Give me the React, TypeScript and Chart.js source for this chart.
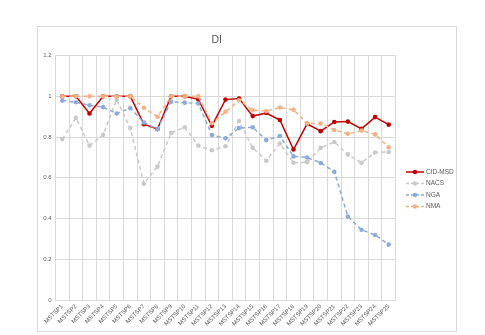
import React, { useEffect, useRef } from "react";
import { Chart, registerables } from "chart.js";

Chart.register(...registerables);

const categories = Array.from({ length: 25 }, (_, i) => `MSTSP${i + 1}`);

const cidMsd = [1.0, 1.0, 0.916, 1.0, 1.0, 1.0, 0.863, 0.839, 1.0, 1.0, 0.985, 0.855, 0.984, 0.989, 0.903, 0.918, 0.884, 0.739, 0.865, 0.829, 0.874, 0.876, 0.84, 0.898, 0.861];
const nacs = [0.79, 0.894, 0.758, 0.811, 0.984, 0.844, 0.571, 0.655, 0.821, 0.848, 0.758, 0.735, 0.755, 0.879, 0.747, 0.684, 0.768, 0.674, 0.677, 0.747, 0.776, 0.715, 0.674, 0.724, 0.727];
const nga = [0.979, 0.971, 0.956, 0.947, 0.916, 0.942, 0.871, 0.839, 0.974, 0.969, 0.965, 0.81, 0.794, 0.844, 0.848, 0.785, 0.805, 0.705, 0.7, 0.673, 0.63, 0.41, 0.345, 0.319, 0.272];
const nma = [1.0, 1.0, 1.0, 1.0, 1.0, 1.0, 0.944, 0.9, 1.0, 1.0, 1.0, 0.868, 0.924, 0.981, 0.932, 0.927, 0.945, 0.934, 0.866, 0.866, 0.835, 0.816, 0.832, 0.813, 0.75];

const seriesNames = ["CID-MSD", "NACS", "NGA", "NMA"];
const seriesColors = ["#c00000", "#c9c9c9", "#8eaadb", "#f4b183"];
const seriesDashed = [false, true, true, true];
const yTicks = [0, 0.2, 0.4, 0.6, 0.8, 1, 1.2];

const FONT = "'Liberation Sans', Arial, sans-serif";

const legendPlugin = {
  id: "customLegend",
  afterDraw(chart: any) {
    const ctx = chart.ctx;
    const x0 = 368;
    const ys = [145, 156.5, 168, 179.5];
    ctx.save();
    seriesNames.forEach((name, i) => {
      const y = ys[i];
      ctx.strokeStyle = seriesColors[i];
      ctx.lineWidth = 1.5;
      ctx.setLineDash(seriesDashed[i] ? [3, 2] : []);
      ctx.beginPath();
      ctx.moveTo(x0, y);
      ctx.lineTo(x0 + 18, y);
      ctx.stroke();
      ctx.setLineDash([]);
      ctx.fillStyle = seriesColors[i];
      ctx.beginPath();
      ctx.arc(x0 + 9, y, 2.2, 0, Math.PI * 2);
      ctx.fill();
      ctx.fillStyle = "#595959";
      ctx.font = `6.5px ${FONT}`;
      ctx.textBaseline = "middle";
      ctx.textAlign = "left";
      ctx.fillText(name, x0 + 20, y);
    });
    ctx.restore();
  },
};

export default function App() {
  const ref = useRef<HTMLCanvasElement | null>(null);
  useEffect(() => {
    if (!ref.current) return;
    const data = [cidMsd, nacs, nga, nma];
    const chart = new Chart(ref.current, {
      type: "line",
      data: {
        labels: categories,
        datasets: seriesNames.map((name, i) => ({
          label: name,
          data: data[i],
          borderColor: seriesColors[i],
          backgroundColor: seriesColors[i],
          borderWidth: 1.5,
          borderDash: seriesDashed[i] ? [4, 3] : [],
          pointRadius: 2.3,
          pointBorderWidth: 0,
          pointBackgroundColor: seriesColors[i],
          tension: 0,
          order: 4 - i,
        })),
      },
      options: {
        animation: false,
        responsive: false,
        maintainAspectRatio: false,
        layout: { padding: { left: 0, right: 60.5, top: 0, bottom: 0 } },
        plugins: {
          legend: { display: false },
          tooltip: { enabled: false },
          title: {
            display: true,
            text: "DI",
            color: "#595959",
            font: { family: FONT, size: 10.5, weight: "normal" as any },
            padding: { top: 7, bottom: 9 },
          },
        },
        scales: {
          x: {
            offset: true,
            grid: { offset: true, color: "#d9d9d9", lineWidth: 1, drawTicks: false },
            border: { color: "#d9d9d9" },
            ticks: {
              autoSkip: false,
              minRotation: 45,
              maxRotation: 45,
              color: "#595959",
              padding: 3,
              font: { family: FONT, size: 6 },
            },
            afterFit(scale: any) {
              scale.height = 31;
            },
          },
          y: {
            min: 0,
            max: 1.2,
            afterBuildTicks(scale: any) {
              scale.ticks = yTicks.map((v) => ({ value: v }));
            },
            grid: { color: "#d9d9d9", lineWidth: 1, drawTicks: false },
            border: { display: false },
            ticks: {
              color: "#595959",
              padding: 4,
              font: { family: FONT, size: 6 },
              callback: (v: any) => `${+Number(v).toFixed(2)}`,
            },
            afterFit(scale: any) {
              scale.width = 17.5;
            },
          },
        },
      },
      plugins: [legendPlugin],
    });
    return () => chart.destroy();
  }, []);

  return (
    <div
      style={{
        position: "absolute",
        left: 37,
        top: 26,
        width: 420,
        height: 306,
        border: "1px solid #d9d9d9",
        boxSizing: "border-box",
        background: "#fff",
      }}
    >
      <canvas ref={ref} width={418} height={304} style={{ display: "block", width: 418, height: 304 }} />
    </div>
  );
}
